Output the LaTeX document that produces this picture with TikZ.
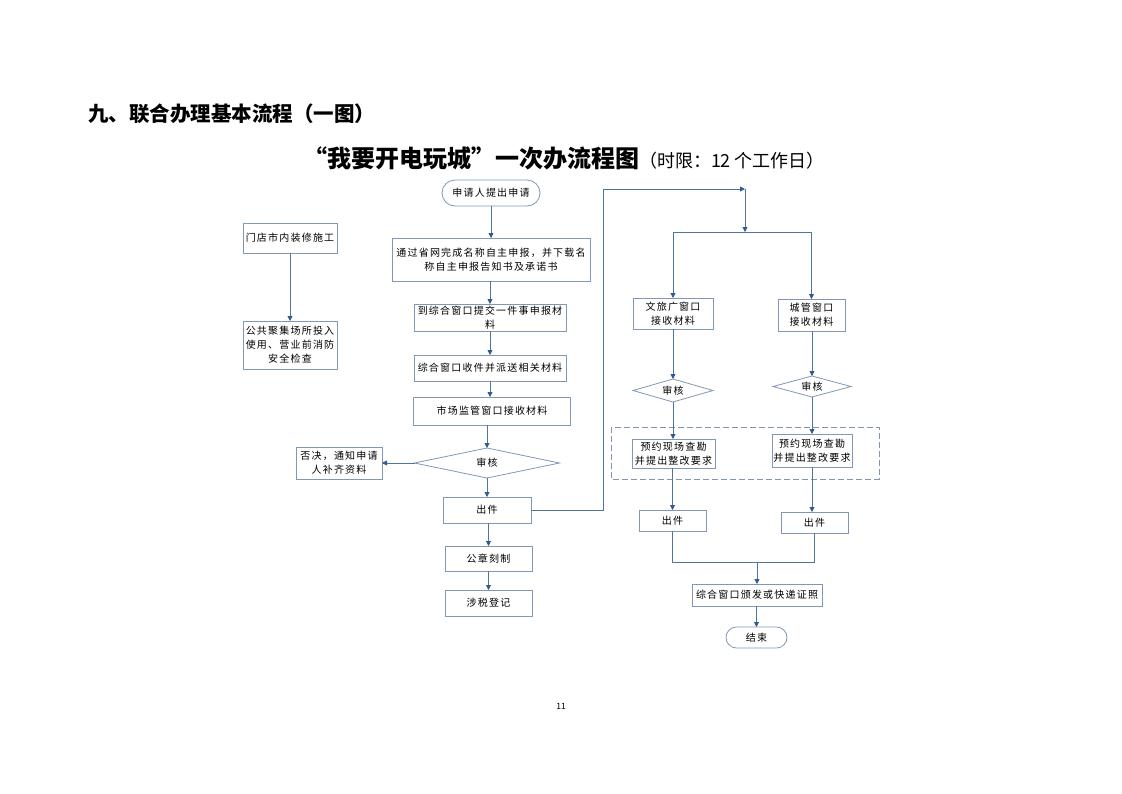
\documentclass[tikz,border=0pt]{standalone}
\usepackage{fontspec}
\usetikzlibrary{shapes.geometric,arrows.meta}
\newfontfamily\cjk{Noto Sans CJK SC}
\newfontfamily\cjkbox[LetterSpace=12]{Noto Sans CJK SC}
\definecolor{boxline}{RGB}{128,152,182}
\definecolor{conline}{RGB}{78,116,160}
\definecolor{tipcol}{RGB}{50,90,145}
\begin{document}
\begin{tikzpicture}[x=1pt,y=-1pt,
  every node/.style={inner sep=0pt,outer sep=0pt},
  box/.style={draw=boxline,line width=0.8pt,rectangle,align=center,
    font=\cjkbox\fontsize{10}{14}\selectfont,text=black},
  term/.style={box,rounded corners=10pt},
  decide/.style={draw=boxline,line width=0.8pt,diamond,aspect=4,align=center,
    font=\cjkbox\fontsize{10}{14}\selectfont},
  con/.style={draw=conline,line width=0.8pt},
  arr/.style={con,-{Triangle[width=5pt,length=5pt,color=tipcol]}}]
\useasboundingbox (0,0) rectangle (1122,793);
% headings
\node[anchor=west,font=\cjk\bfseries\fontsize{20.5}{22}\selectfont] (h1) at (88,114) {九、联合办理基本流程（一图）};
\node[anchor=west] (h2) at (303,158) {{\cjk\bfseries\fontsize{24}{26}\selectfont “我要开电玩城”一次办流程图}{\cjk\fontsize{18}{20}\selectfont（时限：12 个工作日）}};
% left column
\node[box,minimum width=94pt,minimum height=30pt] (dec) at (290,238) {门店市内装修施工};
\node[box,minimum width=94pt,minimum height=48pt] (fire) at (290,345) {公共聚集场所投入\\使用、营业前消防\\安全检查};
% middle column
\node[term,minimum width=98pt,minimum height=26pt,rounded corners=13pt] (apply) at (491,193) {申请人提出申请};
\node[box,minimum width=198pt,minimum height=43pt] (net) at (491,259.5) {通过省网完成名称自主申报，并下载名\\称自主申报告知书及承诺书};
\node[box,minimum width=152pt,minimum height=27pt] (submit) at (490,317.5) {到综合窗口提交一件事申报材\\料};
\node[box,minimum width=152pt,minimum height=26pt] (recv) at (490,368) {综合窗口收件并派送相关材料};
\node[box,minimum width=157pt,minimum height=28pt] (scm) at (492,411) {市场监管窗口接收材料};
\node[decide,minimum width=145pt,minimum height=30pt] (rev) at (487,463) {审核};
\node[box,minimum width=86pt,minimum height=32pt] (rej) at (339,463) {否决，通知申请\\人补齐资料};
\node[box,minimum width=88pt,minimum height=26pt] (out) at (487,510) {出件};
\node[box,minimum width=87pt,minimum height=25pt] (seal) at (488.5,558.5) {公章刻制};
\node[box,minimum width=87pt,minimum height=26pt] (tax) at (488.5,603) {涉税登记};
% right column
\coordinate (j1) at (745,189);
\coordinate (j2) at (745,232);
\node[box,minimum width=80pt,minimum height=31pt] (wl) at (673,313.5) {文旅广窗口\\接收材料};
\node[box,minimum width=67pt,minimum height=32pt] (cg) at (811.5,315) {城管窗口\\接收材料};
\node[decide,minimum width=80pt,minimum height=23pt] (rv1) at (673,390.5) {审核};
\node[decide,minimum width=78pt,minimum height=21pt] (rv2) at (812,386.5) {审核};
\draw[draw=boxline!90!gray,line width=0.9pt,dash pattern=on 6pt off 3pt] (611,427) rectangle (879,479);
\node[box,minimum width=83pt,minimum height=29pt] (sv1) at (673.5,453.5) {预约现场查勘\\并提出整改要求};
\node[box,minimum width=80pt,minimum height=33pt] (sv2) at (812,450.5) {预约现场查勘\\并提出整改要求};
\node[box,minimum width=67pt,minimum height=21pt] (o1) at (672.5,520.5) {出件};
\node[box,minimum width=67pt,minimum height=21pt] (o2) at (814.5,522.5) {出件};
\coordinate (j3) at (757,562);
\node[box,minimum width=130pt,minimum height=22pt] (ft) at (757,595) {综合窗口颁发或快递证照};
\node[term,minimum width=61pt,minimum height=21pt,rounded corners=10.5pt] (end) at (756.5,637.5) {结束};
% page number
\node[font=\cjk\fontsize{8.5}{10}\selectfont] (pg) at (561,706) {11};
% connectors
\draw[arr] (dec.south) -- (fire.north);
\draw[arr] (apply.south) -- (apply.south |- net.north);
\draw[arr] (net.south -| submit.north) -- (submit.north);
\draw[arr] (submit.south) -- (recv.north);
\draw[arr] (recv.south) -- (recv.south |- scm.north);
\draw[arr] (scm.south -| rev.north) -- (rev.north);
\draw[arr] (rev.west) -- (rej.east);
\draw[arr] (rev.south) -- (out.north);
\draw[arr] (out.south -| seal.north) -- (seal.north);
\draw[arr] (seal.south) -- (tax.north);
\draw[arr] (out.east) -- (603,510) -- (603,189) -- (j1);
\draw[arr] (j1) -- (j2);
\draw[arr] (j2) -| (wl.north);
\draw[arr] (j2) -| (cg.north);
\draw[arr] (wl.south) -- (rv1.north);
\draw[arr] (cg.south -| rv2.north) -- (rv2.north);
\draw[arr] (rv1.south) -- (rv1.south |- sv1.north);
\draw[arr] (rv2.south) -- (sv2.north);
\draw[arr] (sv1.south -| o1.north) -- (o1.north);
\draw[arr] (sv2.south) -- (sv2.south |- o2.north);
\draw[con] (o1.south) |- (j3);
\draw[con] (o2.south) |- (j3);
\draw[arr] (j3) -- (ft.north);
\draw[arr] (ft.south -| end.north) -- (end.north);
\end{tikzpicture}
\end{document}
